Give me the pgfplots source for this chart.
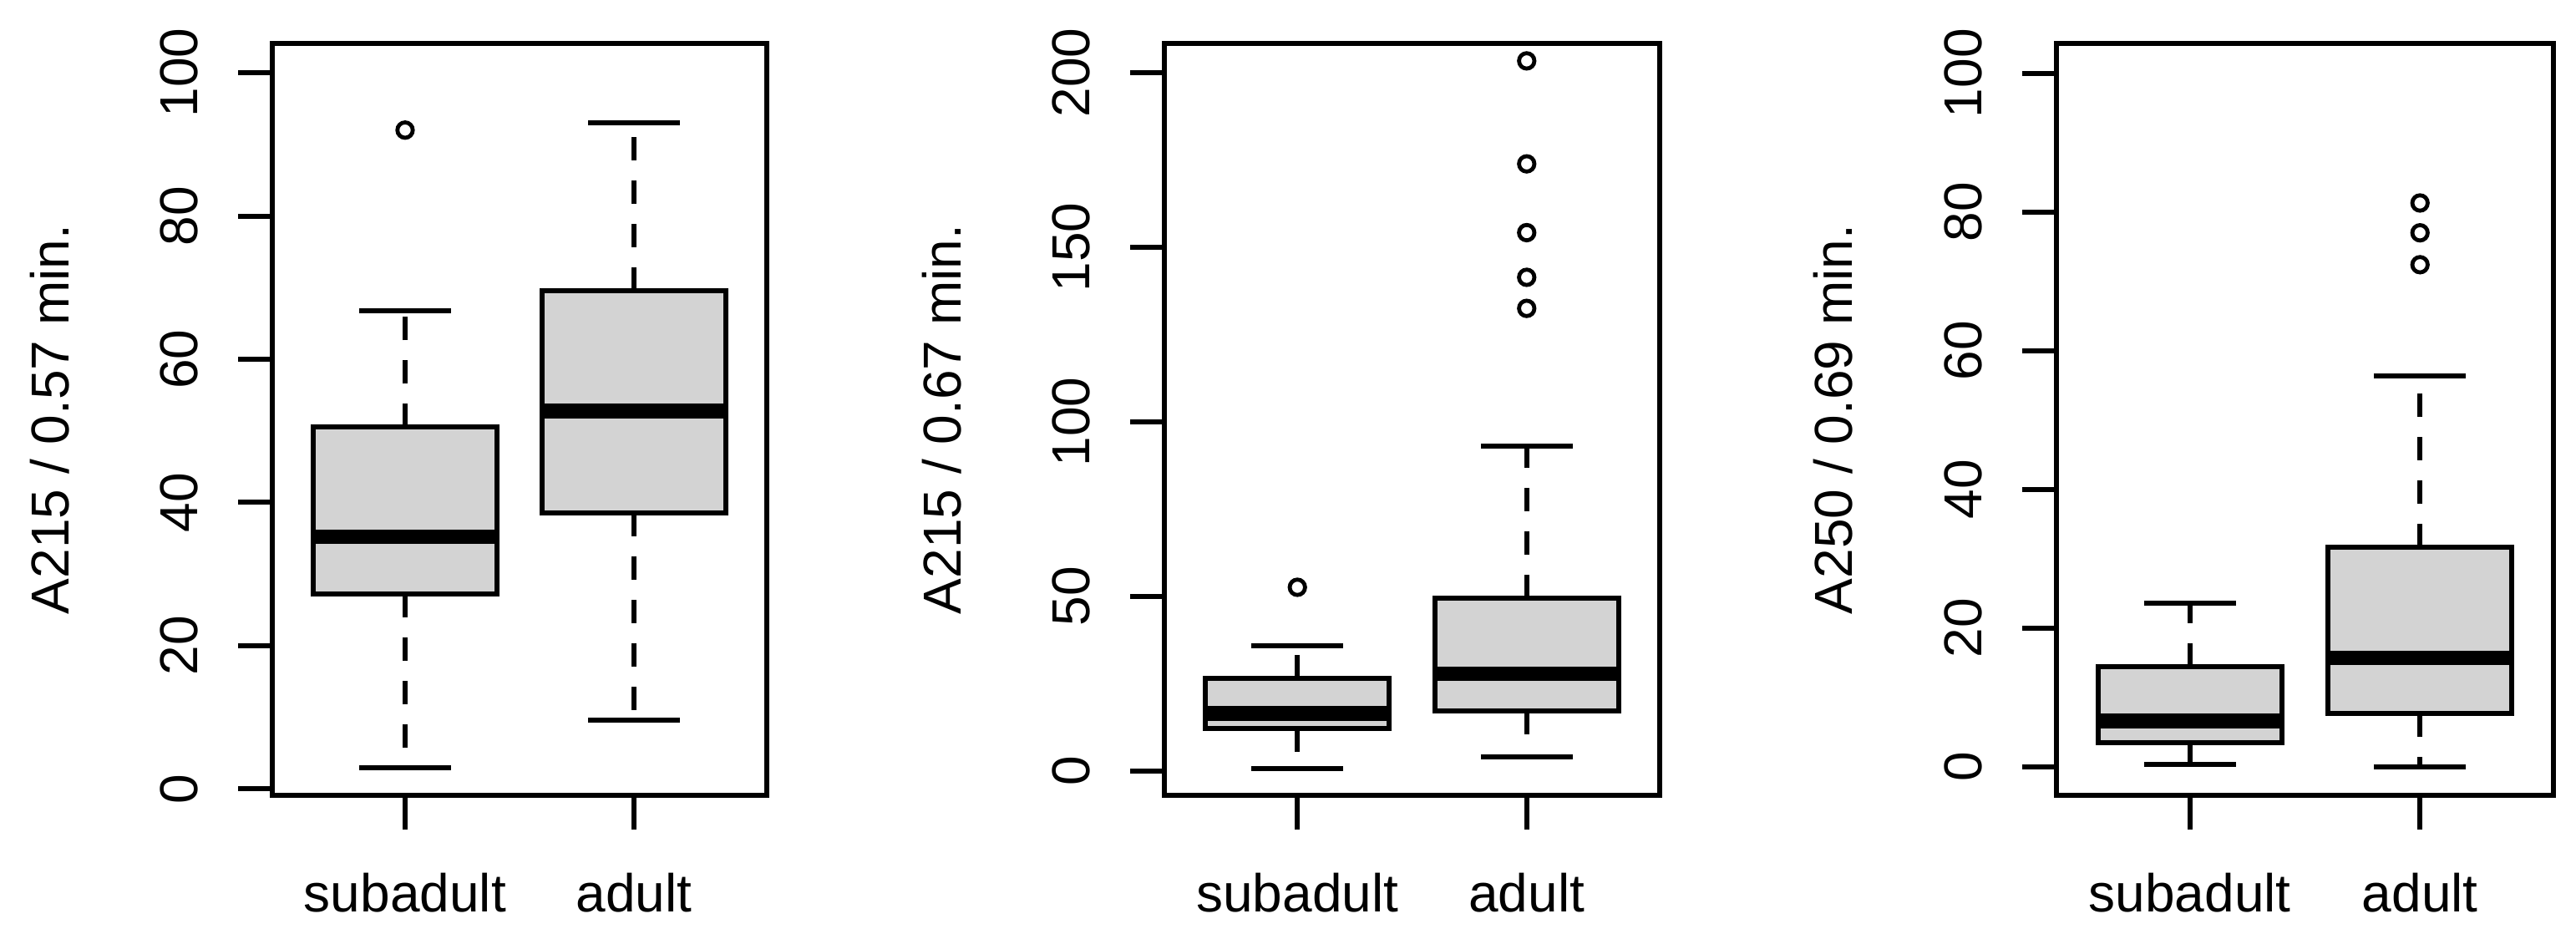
\documentclass[border=0pt]{standalone}
\usepackage{pgfplots}
\pgfplotsset{compat=1.18}
\usepgfplotslibrary{statistics}
\usepackage{fontspec}
\setmainfont{Liberation Sans}
\definecolor{rgray}{HTML}{D3D3D3}
\tikzset{rdash/.style={dash pattern=on 7pt off 6pt}}
\pgfplotsset{
  rpanel/.style={
    scale only axis,
    height=225pt,
    xmin=0.42, xmax=2.58,
    xtick={1,2}, xticklabels={subadult,adult},
    tick align=outside,
    tick pos=left,
    major tick length=10.25pt,
    tick style={black, line width=1.5pt},
    axis line style={black, line width=1.5pt},
    tick label style={font=\fontsize{16}{19}\selectfont},
    /pgf/number format/assume math mode=true,
    yticklabel style={rotate=90, anchor=base},
    xticklabel style={anchor=base},
    yticklabel shift=12.25pt,
    xticklabel shift=24.5pt,
    every axis y label/.style={at={(axis description cs:-0.4105,0.5)}, rotate=90, anchor=base, font=\fontsize{16}{19}\selectfont},
    boxplot/draw direction=y,
    boxplot/box extend=0.8,
    boxplot/whisker extend=0.4,
    boxplot/every box/.style={fill=rgray, draw=black, line width=1.5pt},
    boxplot/every median/.style={draw=black, line width=4.4pt},
    boxplot/every whisker/.style={draw=black, line width=1.5pt},
    boxplot/draw/lower whisker/.code={%
      \draw[/pgfplots/boxplot/every whisker/.try, rdash]
        (boxplot cs:\pgfplotsboxplotvalue{lower quartile}) --
        (boxplot cs:\pgfplotsboxplotvalue{lower whisker});
      \draw[/pgfplots/boxplot/every whisker/.try, solid]
        (boxplot whisker cs:\pgfplotsboxplotvalue{lower whisker},0) --
        (boxplot whisker cs:\pgfplotsboxplotvalue{lower whisker},1);
    },
    boxplot/draw/upper whisker/.code={%
      \draw[/pgfplots/boxplot/every whisker/.try, rdash]
        (boxplot cs:\pgfplotsboxplotvalue{upper quartile}) --
        (boxplot cs:\pgfplotsboxplotvalue{upper whisker});
      \draw[/pgfplots/boxplot/every whisker/.try, solid]
        (boxplot whisker cs:\pgfplotsboxplotvalue{upper whisker},0) --
        (boxplot whisker cs:\pgfplotsboxplotvalue{upper whisker},1);
    },
  },
  rbox/.style={
    solid, draw=black, line width=1.5pt,
    mark=o, mark size=2.3pt, mark options={solid, draw=black, line width=1.2pt, fill=none},
  },
}
\begin{document}
\begin{tikzpicture}
\useasboundingbox (0,0) rectangle (771pt,279.25pt);
% Panel 1
\begin{axis}[rpanel, at={(81.5pt,41.25pt)}, anchor=south west, width=148pt,
  ymin=-0.9, ymax=104.1, ytick={0,20,40,60,80,100},
  ylabel={A215 / 0.57 min.}]
\addplot[rbox, boxplot prepared={draw position=1,
  lower whisker=3.0, lower quartile=27.2, median=35.2,
  upper quartile=50.5, upper whisker=66.8}]
  table[row sep=\\, y index=0] {92.0\\};
\addplot[rbox, boxplot prepared={draw position=2,
  lower whisker=9.6, lower quartile=38.5, median=52.8,
  upper quartile=69.6, upper whisker=93.0}]
  coordinates {};
\end{axis}
% Panel 2
\begin{axis}[rpanel, at={(348.5pt,41.25pt)}, anchor=south west, width=148.25pt,
  ymin=-7, ymax=208.4, ytick={0,50,100,150,200},
  ylabel={A215 / 0.67 min.}]
\addplot[rbox, boxplot prepared={draw position=1,
  lower whisker=0.7, lower quartile=12.1, median=16.4,
  upper quartile=26.5, upper whisker=35.9}]
  table[row sep=\\, y index=0] {52.6\\};
\addplot[rbox, boxplot prepared={draw position=2,
  lower whisker=3.9, lower quartile=17.1, median=27.8,
  upper quartile=49.5, upper whisker=93.1}]
  table[row sep=\\, y index=0] {132.5\\ 141.4\\ 154.2\\ 173.9\\ 203.4\\};
\end{axis}
% Panel 3
\begin{axis}[rpanel, at={(615.5pt,41.25pt)}, anchor=south west, width=148.75pt,
  ymin=-4.1, ymax=104.3, ytick={0,20,40,60,80,100},
  ylabel={A250 / 0.69 min.}]
\addplot[rbox, boxplot prepared={draw position=1,
  lower whisker=0.3, lower quartile=3.5, median=6.6,
  upper quartile=14.5, upper whisker=23.6}]
  coordinates {};
\addplot[rbox, boxplot prepared={draw position=2,
  lower whisker=0.0, lower quartile=7.7, median=15.7,
  upper quartile=31.7, upper whisker=56.4}]
  table[row sep=\\, y index=0] {72.4\\ 77.0\\ 81.3\\};
\end{axis}
\end{tikzpicture}
\end{document}
